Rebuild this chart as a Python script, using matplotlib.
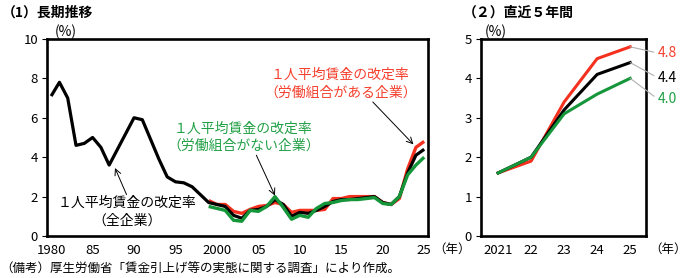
import matplotlib
matplotlib.use("Agg")
import matplotlib.pyplot as plt

plt.rcParams["font.family"] = ["Noto Sans CJK JP", "DejaVu Sans"]

# ---------------------------------------------------------------------------
#  Data (1人平均賃金の改定率, %)
# ---------------------------------------------------------------------------
YEARS_ALL = list(range(1980, 2026))
RATE_ALL = [7.1, 7.8, 7.0, 4.6, 4.7, 5.0, 4.5, 3.6, 4.4, 5.2,
            6.0, 5.9, 4.9, 3.9, 3.0, 2.75, 2.7, 2.5, 2.1, 1.7,
            1.6, 1.5, 1.05, 0.9, 1.3, 1.35, 1.5, 1.85, 1.6, 1.0,
            1.2, 1.15, 1.3, 1.5, 1.75, 1.85, 1.85, 1.9, 1.95, 2.0,
            1.7, 1.6, 2.0, 3.2, 4.1, 4.4]

YEARS_SUB = list(range(1999, 2026))
RATE_UNION = [1.8, 1.6, 1.6, 1.25, 1.15, 1.35, 1.5, 1.55, 1.7, 1.6,
              1.2, 1.3, 1.3, 1.3, 1.35, 1.9, 1.9, 2.0, 2.0, 2.0,
              2.0, 1.7, 1.6, 1.9, 3.4, 4.5, 4.8]
RATE_NONUNION = [1.5, 1.4, 1.3, 0.8, 0.75, 1.3, 1.25, 1.5, 2.0, 1.45,
                 0.85, 1.05, 0.95, 1.4, 1.65, 1.7, 1.8, 1.85, 1.85, 1.9,
                 1.95, 1.65, 1.6, 2.0, 3.1, 3.6, 4.0]

LEFT_XTICKS = [1980, 1985, 1990, 1995, 2000, 2005, 2010, 2015, 2020, 2025]
LEFT_XLABELS = ["1980", "85", "90", "95", "2000", "05", "10", "15", "20", "25"]
RIGHT_XTICKS = [2021, 2022, 2023, 2024, 2025]
RIGHT_XLABELS = ["2021", "22", "23", "24", "25"]

RED = "#F4301E"
GREEN = "#16963A"
BLACK = "#000000"
LABEL_RED = "#F5402E"
LABEL_GREEN = "#22A046"

LABEL_ALL = "１人平均賃金の改定率\n（全企業）"
LABEL_UNION = "１人平均賃金の改定率\n（労働組合がある企業）"
LABEL_NONUNION = "１人平均賃金の改定率\n（労働組合がない企業）"

# ---------------------------------------------------------------------------
#  Figure
# ---------------------------------------------------------------------------
fig = plt.figure(figsize=(6.88, 2.78), dpi=100)
ax1 = fig.add_axes([0.0683, 0.151, 0.5537, 0.709])
ax2 = fig.add_axes([0.699, 0.151, 0.240, 0.709])


def style_axes(ax):
    for sp in ax.spines.values():
        sp.set_linewidth(1.9)
    ax.tick_params(axis="y", direction="out", length=3.5, width=0.8,
                   labelsize=9.5, pad=3)
    ax.tick_params(axis="x", length=0, labelsize=9.5, pad=6)


# left: long-term trend
ax1.plot(YEARS_SUB, RATE_UNION, color=RED, lw=2.4, solid_capstyle="butt")
ax1.plot(YEARS_ALL, RATE_ALL, color=BLACK, lw=2.3, solid_capstyle="butt")
ax1.plot(YEARS_SUB, RATE_NONUNION, color=GREEN, lw=2.4, solid_capstyle="butt")
ax1.set_xlim(1979.5, 2025.45)
ax1.set_ylim(0, 10)
ax1.set_yticks(range(0, 11, 2))
ax1.set_xticks(LEFT_XTICKS)
ax1.set_xticklabels(LEFT_XLABELS)
style_axes(ax1)

arrow = dict(arrowstyle="->", color="black", lw=0.7, mutation_scale=11,
             shrinkA=0, shrinkB=0)
ax1.text(1989.2, 1.22, LABEL_ALL, ha="center", va="center",
         multialignment="center", fontsize=10, linespacing=1.35, color=BLACK)
ax1.annotate("", xy=(1987.7, 3.45), xytext=(1989.1, 2.1), arrowprops=arrow)

ax1.text(2003.2, 5.01, LABEL_NONUNION, ha="center", va="center",
         multialignment="center", fontsize=10, linespacing=1.3,
         color=LABEL_GREEN)
ax1.annotate("", xy=(2007, 2.05), xytext=(2004.75, 4.1), arrowprops=arrow)

ax1.text(2014.9, 7.72, LABEL_UNION, ha="center", va="center",
         multialignment="center", fontsize=10, linespacing=1.3,
         color=LABEL_RED)
ax1.annotate("", xy=(2023.7, 4.65), xytext=(2018.8, 6.8), arrowprops=arrow)

# right: last five years
n5 = len(RIGHT_XTICKS)
ax2.plot(YEARS_SUB[-n5:], RATE_UNION[-n5:], color=RED, lw=2.2)
ax2.plot(YEARS_ALL[-n5:], RATE_ALL[-n5:], color=BLACK, lw=2.2)
ax2.plot(YEARS_SUB[-n5:], RATE_NONUNION[-n5:], color=GREEN, lw=2.2)
ax2.set_xlim(2020.48, 2025.48)
ax2.set_ylim(0, 5)
ax2.set_yticks(range(0, 6))
ax2.set_xticks(RIGHT_XTICKS)
ax2.set_xticklabels(RIGHT_XLABELS)
style_axes(ax2)

leader = dict(arrowstyle="-", color="#B0B0B0", lw=0.8, relpos=(0, 0.5),
              shrinkA=1, shrinkB=0)
for vals, col, dy in [(RATE_UNION, LABEL_RED, -4.5),
                      (RATE_ALL, BLACK, -11),
                      (RATE_NONUNION, LABEL_GREEN, -15)]:
    ax2.annotate(f"{vals[-1]:.1f}", xy=(2025, vals[-1]), xytext=(20, dy),
                 textcoords="offset points", ha="left", va="center",
                 fontsize=10, color=col, annotation_clip=False,
                 arrowprops=leader)

# titles and units
fig.text(0.003, 0.955, "（1）長期推移", fontsize=10, fontweight="bold",
         ha="left", va="center")
fig.text(0.672, 0.955, "（２）直近５年間", fontsize=10, fontweight="bold",
         ha="left", va="center")
fig.text(0.080, 0.885, "(%)", fontsize=10, ha="left", va="center")
fig.text(0.705, 0.885, "(%)", fontsize=10, ha="left", va="center")
fig.text(0.630, 0.104, "（年）", fontsize=9, ha="left", va="center")
fig.text(0.944, 0.104, "（年）", fontsize=9, ha="left", va="center")
fig.text(0.0, 0.032,
         "（備考）厚生労働省「賃金引上げ等の実態に関する調査」により作成。",
         fontsize=9, ha="left", va="center")

fig.savefig("out.png", dpi=100)
